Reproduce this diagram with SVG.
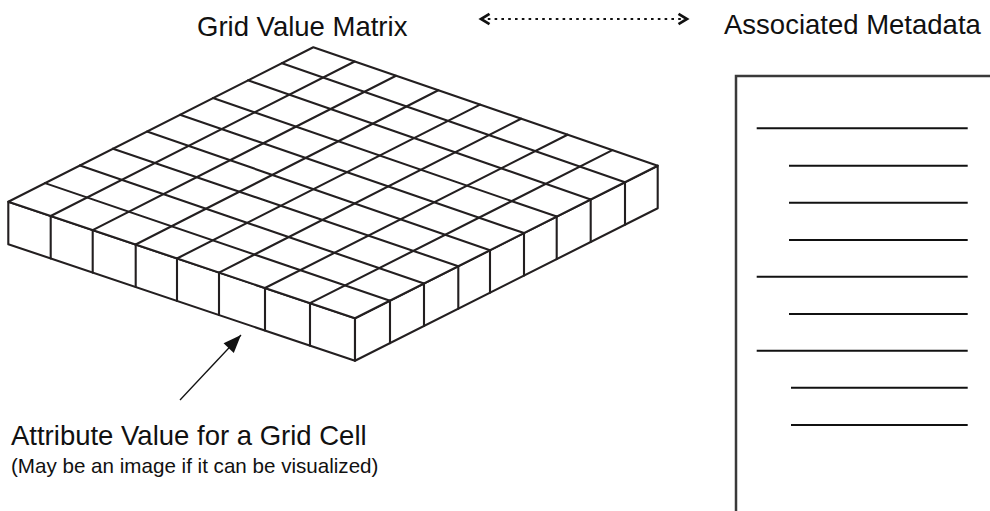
<svg xmlns="http://www.w3.org/2000/svg" width="990" height="511" viewBox="0 0 990 511">
  <style>
    .ink { fill: none; stroke: #231f20; stroke-width: 2.1; stroke-linejoin: round; stroke-linecap: round; }
    .face { fill: #ffffff; stroke: #231f20; stroke-width: 2.1; stroke-linejoin: round; }
    .title { font-family: "Liberation Sans", Arial, sans-serif; font-size: 27.5px; fill: #111111; }
    .label { font-family: "Liberation Sans", Arial, sans-serif; font-size: 27.5px; fill: #111111; }
    .sub { font-family: "Liberation Sans", Arial, sans-serif; font-size: 20.6px; fill: #111111; }
    .page { fill: none; stroke: #3a3a3a; stroke-width: 2.5; }
    .row { stroke: #111111; stroke-width: 2.1; }
    .dotted { fill: none; stroke: #111111; stroke-width: 1.8; stroke-dasharray: 2.6 4.2; }
    .pointer { fill: none; stroke: #111111; stroke-width: 1.3; }
  </style>
  <defs>
    <marker id="chev" markerUnits="userSpaceOnUse" markerWidth="16" markerHeight="16" viewBox="-12 -8 16 16" refX="0" refY="0" orient="auto-start-reverse">
      <path d="M -8.5 -5.2 L 0 0 L -8.5 5.2" fill="none" stroke="#111111" stroke-width="2.7" stroke-linejoin="miter"/>
    </marker>
    <marker id="tri" markerUnits="userSpaceOnUse" markerWidth="22" markerHeight="22" viewBox="-20 -9 22 18" refX="0" refY="0" orient="auto">
      <path d="M 0 0 L -18 -7 L -18 7 Z" fill="#111111"/>
    </marker>
  </defs>
  <rect width="990" height="511" fill="#ffffff"/>

  <g id="grid-value-matrix">
    <!-- side faces -->
    <path class="face" d="M 8.3 201.7 L 355 318.3 L 355 360.8 L 8.3 244.2 Z"/>
    <path class="face" d="M 355 318.3 L 657.7 165.7 L 657.7 208.2 L 355 360.8 Z"/>
    <!-- top face -->
    <path class="face" d="M 8.3 201.7 L 313.3 47.3 L 657.7 165.7 L 355 318.3 Z"/>
    <!-- top grid lines -->
    <path class="ink" d="M 50.7 215.96 L 354.7 61.53 M 92.7 230.08 L 396 75.73 M 135.7 244.54 L 438.3 90.28 M 177 258.44 L 480 104.61 M 219 272.57 L 521 118.71 M 265 288.04 L 567.5 134.69 M 310 303.18 L 612.4 150.13"/>
    <path class="ink" d="M 45 183.12 L 390 300.66 M 80 165.4 L 424 283.52 M 113 148.7 L 458.3 266.22 M 147 131.49 L 490 250.24 M 180 114.78 L 524 233.1 M 213 98.08 L 556.7 216.61 M 248 80.36 L 590.7 199.47 M 282 63.15 L 625 182.2"/>
    <!-- vertical cell edges -->
    <path class="ink" d="M 50.7 215.96 v 42.5 M 92.7 230.08 v 42.5 M 135.7 244.54 v 42.5 M 177 258.44 v 42.5 M 219 272.57 v 42.5 M 265 288.04 v 42.5 M 310 303.18 v 42.5"/>
    <path class="ink" d="M 390 300.66 v 42.5 M 424 283.52 v 42.5 M 458.3 266.22 v 42.5 M 490 250.24 v 42.5 M 524 233.1 v 42.5 M 556.7 216.61 v 42.5 M 590.7 199.47 v 42.5 M 625 182.2 v 42.5"/>
  </g>

  <g id="associated-metadata">
    <path class="page" d="M 736 515 L 736 76 L 995 76"/>
    <g class="row">
      <line x1="756.7" y1="128.3" x2="967.7" y2="128.3"/>
      <line x1="789" y1="165.7" x2="967.7" y2="165.7"/>
      <line x1="789" y1="202.7" x2="967.7" y2="202.7"/>
      <line x1="789" y1="240" x2="967.7" y2="240"/>
      <line x1="756.7" y1="276.7" x2="967.7" y2="276.7"/>
      <line x1="789" y1="314" x2="967.7" y2="314"/>
      <line x1="756.7" y1="350.7" x2="967.7" y2="350.7"/>
      <line x1="791" y1="387.7" x2="967.7" y2="387.7"/>
      <line x1="791" y1="425" x2="967.7" y2="425"/>
    </g>
  </g>

  <g id="labels">
    <text class="title" x="197" y="36">Grid Value Matrix</text>
    <text class="title" x="724" y="34">Associated Metadata</text>
    <text class="label" x="11" y="445">Attribute Value for a Grid Cell</text>
    <text class="sub" x="11" y="473">(May be an image if it can be visualized)</text>
  </g>

  <g id="connectors">
    <line class="dotted" x1="481" y1="19" x2="687" y2="19" marker-start="url(#chev)" marker-end="url(#chev)"/>
    <line class="pointer" x1="180" y1="400" x2="241" y2="335" marker-end="url(#tri)"/>
  </g>
</svg>
